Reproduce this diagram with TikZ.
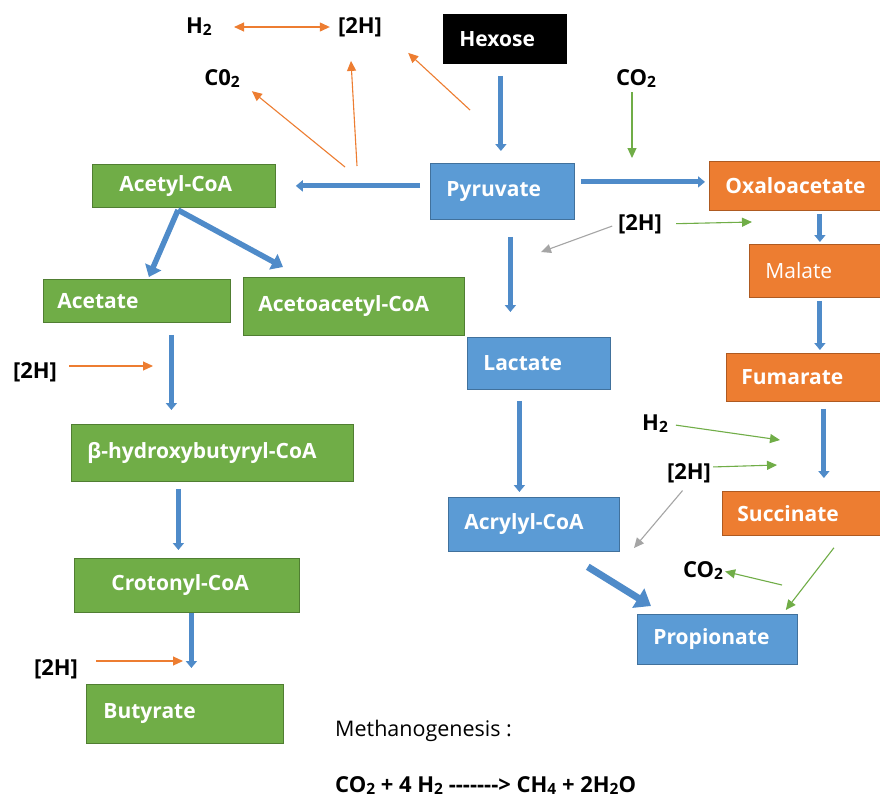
\documentclass[tikz,border=0pt]{standalone}
\usepackage{fontspec}
\setmainfont{Open Sans}
\usetikzlibrary{arrows.meta}
\definecolor{gfill}{HTML}{70AD47}
\definecolor{gdraw}{HTML}{507E32}
\definecolor{bfill}{HTML}{5B9BD5}
\definecolor{bdraw}{HTML}{41719C}
\definecolor{ofill}{HTML}{ED7D31}
\definecolor{odraw}{HTML}{AE5A21}
\definecolor{grayc}{HTML}{A5A5A5}
\definecolor{flowc}{HTML}{4F8BC9}
\newcommand\lo[1]{\raisebox{-2pt}{\fontsize{15.5}{15}\selectfont #1}}
\begin{document}
\begin{tikzpicture}[x=1pt,y=-1pt,
  box/.style={rectangle, anchor=north west, inner xsep=0pt, inner ysep=0pt, align=left,
    text=white, font=\fontsize{21}{24}\selectfont\bfseries, line width=0.8pt},
  gbox/.style={box, fill=gfill, draw=gdraw},
  bbox/.style={box, fill=bfill, draw=bdraw},
  obox/.style={box, fill=ofill, draw=odraw},
  kbox/.style={box, fill=black, draw=black},
  lab/.style={inner sep=0pt, font=\fontsize{22}{24}\selectfont\bfseries, text=black},
  flow/.style={draw=flowc, line width=5pt, -{Triangle[width=11pt,length=7pt]}},
  bigflow/.style={draw=flowc, line width=5.5pt, -{Triangle[width=17pt,length=11pt]}},
  hugeflow/.style={draw=flowc, line width=7pt, -{Triangle[width=22pt,length=15pt]}},
  thinarr/.style={line width=1.1pt, -{Triangle[width=9pt,length=10pt]}},
  oarr/.style={thinarr, draw=ofill, color=ofill},
  garr/.style={thinarr, draw=gfill, color=gfill},
  yarr/.style={thinarr, draw=grayc, color=grayc},
]
\useasboundingbox[fill=white] (0,0) rectangle (880,801);

% boxes
\node[kbox, text width=123pt, minimum height=49pt] (hexose) at (443,14) {\hspace*{16pt}Hexose};
\node[bbox, text width=144pt, minimum height=56pt] (pyruvate) at (430,163) {\hspace*{16pt}Pyruvate};
\node[obox, text width=176pt, minimum height=49pt] (oxalo) at (709,161) {\hspace*{16pt}Oxaloacetate};
\node[obox, text width=136pt, minimum height=53pt, font=\fontsize{21}{24}\selectfont] (malate) at (749,244) {\hspace*{16pt}Malate};
\node[obox, text width=159pt, minimum height=48pt] (fumarate) at (726,353) {\hspace*{15pt}Fumarate};
\node[obox, text width=163pt, minimum height=44pt] (succinate) at (722,491) {\hspace*{15pt}Succinate};
\node[bbox, text width=160pt, minimum height=50pt] (propionate) at (637,614) {\hspace*{16pt}Propionate};
\node[bbox, text width=143pt, minimum height=52pt] (lactate) at (467,337) {\hspace*{16pt}Lactate};
\node[bbox, text width=171pt, minimum height=54pt] (acrylyl) at (448,497) {\hspace*{16pt}Acrylyl-CoA};
\node[gbox, text width=183pt, minimum height=43pt] (acetyl) at (92,164) {\hspace*{27pt}Acetyl-CoA};
\node[gbox, text width=187pt, minimum height=43pt] (acetate) at (43,279) {\hspace*{14pt}Acetate};
\node[gbox, text width=221pt, minimum height=58pt] (acetoacetyl) at (243,277) {\hspace*{15pt}Acetoacetyl-CoA};
\node[gbox, text width=282pt, minimum height=57pt] (hydroxy) at (71,424) {\hspace*{16pt}β-hydroxybutyryl-CoA};
\node[gbox, text width=225pt, minimum height=54pt] (crotonyl) at (74,558) {\hspace*{37pt}Crotonyl-CoA};
\node[gbox, text width=197pt, minimum height=59pt] (butyrate) at (86,684) {\hspace*{17pt}Butyrate};

% labels
\node[lab] (h2top) at (199,27) {H\lo{2}};
\node[lab] (twohtop) at (360,27) {[2H]};
\node[lab] (co2l) at (222,79) {C0\lo{2}};
\node[lab] (co2r) at (636,79) {CO\lo{2}};
\node[lab] (twohmid) at (640,224) {[2H]};
\node[lab] (twohleft) at (35,372) {[2H]};
\node[lab] (twohbot) at (56,669) {[2H]};
\node[lab] (h2r) at (655,424) {H\lo{2}};
\node[lab] (twohright) at (689,473) {[2H]};
\node[lab] (co2rb) at (703,571) {CO\lo{2}};
\node[inner sep=0pt, anchor=west, font=\fontsize{21.5}{24}\selectfont] (meth) at (335,731) {Methanogenesis :};
\node[lab, anchor=west] (eq) at (335,786) {CO\lo{2} + 4 H\lo{2} -{}-{}-{}-{}-{}-{}-> CH\lo{4} + 2H\lo{2}O};

% free ends
\coordinate (acsplit) at (178,210);
\coordinate (ofork1) at (345,167);
\coordinate (ofork2) at (357,166);
\coordinate (ofork3) at (470,110);
\coordinate (co2tip) at (632,158);
\coordinate (grtip) at (752,222);
\coordinate (gytip) at (541,252);
\coordinate (lefttip) at (153,366);
\coordinate (bottip) at (183,661);
\coordinate (h2tip) at (780,440);
\coordinate (twortip) at (777,465);
\coordinate (graytip) at (634,548);
\coordinate (cotail) at (782,585);

% main flows
\draw[flow, shorten <=12pt, shorten >=12pt] ([xshift=-4pt]hexose.south) -- ([xshift=-4pt]hexose.south |- pyruvate.north);
\draw[flow, shorten <=10pt, shorten >=20pt] (acetyl.east -| pyruvate.west) -- (acetyl.east);
\draw[flow, shorten <=6pt, shorten >=4pt] ([yshift=4pt]pyruvate.east |- oxalo.west) -- ([yshift=4pt]oxalo.west);
\draw[bigflow] (acsplit) -- ([xshift=12pt,yshift=2pt]acetate.north);
\draw[bigflow] (acsplit) -- ([xshift=40pt,yshift=10pt]acetoacetyl.north west);
\draw[flow, shorten <=17pt, shorten >=25pt] ([xshift=8pt]pyruvate.south) -- ([xshift=8pt]pyruvate.south |- lactate.north);
\draw[flow, shorten <=3pt, shorten >=2pt] ([xshift=22.5pt]oxalo.south) -- ([xshift=22.5pt]oxalo.south |- malate.north);
\draw[flow, shorten <=3pt, shorten >=3pt] ([xshift=2.5pt]malate.south) -- ([xshift=2.5pt]malate.south |- fumarate.north);
\draw[flow, shorten <=7pt, shorten >=13pt] ([xshift=18pt]fumarate.south) -- ([xshift=18pt]fumarate.south |- succinate.north);
\draw[flow, shorten <=11pt, shorten >=5pt] ([xshift=-19.5pt]lactate.south) -- ([xshift=-19.5pt]lactate.south |- acrylyl.north);
\draw[hugeflow] ([xshift=-32pt,yshift=-15pt]acrylyl.south east) -- ([xshift=14pt,yshift=8pt]propionate.north west);
\draw[flow, shorten <=12pt, shorten >=14pt] ([xshift=34.5pt]acetate.south) -- ([xshift=34.5pt]acetate.south |- hydroxy.north);
\draw[flow, shorten <=7pt, shorten >=8pt] ([xshift=-34pt]hydroxy.south) -- ([xshift=-34pt]hydroxy.south |- crotonyl.north);
\draw[flow, shorten <=0pt, shorten >=16pt] ([xshift=4.5pt]crotonyl.south) -- ([xshift=4.5pt]crotonyl.south |- butyrate.north);

% thin arrows
\draw[oarr, {Triangle[width=9pt,length=10pt]}-{Triangle[width=9pt,length=10pt]}, shorten <=22pt, shorten >=8pt] (h2top.east) -- (twohtop.west);
\draw[oarr] (ofork1) -- ([xshift=12pt,yshift=-3pt]co2l.south east);
\draw[oarr] (ofork2) -- ([xshift=-9pt,yshift=-24pt]twohtop.south);
\draw[oarr] (ofork3) -- ([xshift=26pt,yshift=-16pt]twohtop.south east);
\draw[garr, shorten <=4pt] (co2r.south -| co2tip) -- (co2tip);
\draw[garr, shorten <=14pt] (twohmid.east) -- (grtip);
\draw[yarr, shorten <=6pt] (twohmid.west) -- (gytip);
\draw[oarr, shorten <=12pt] (twohleft.east |- lefttip) -- (lefttip);
\draw[oarr, shorten <=18pt] (twohbot.east |- bottip) -- (bottip);
\draw[garr, shorten <=8pt] (h2r.east) -- (h2tip);
\draw[garr, shorten <=2pt] ([yshift=6pt]twohright.east) -- (twortip);
\draw[yarr, shorten <=10pt] (twohright.south) -- (graytip);
\draw[garr] ([xshift=30pt,yshift=-12pt]succinate.south) -- ([xshift=-12pt,yshift=4pt]propionate.north east);
\draw[garr, shorten >=2pt] (cotail) -- (co2rb.east);
\end{tikzpicture}
\end{document}
